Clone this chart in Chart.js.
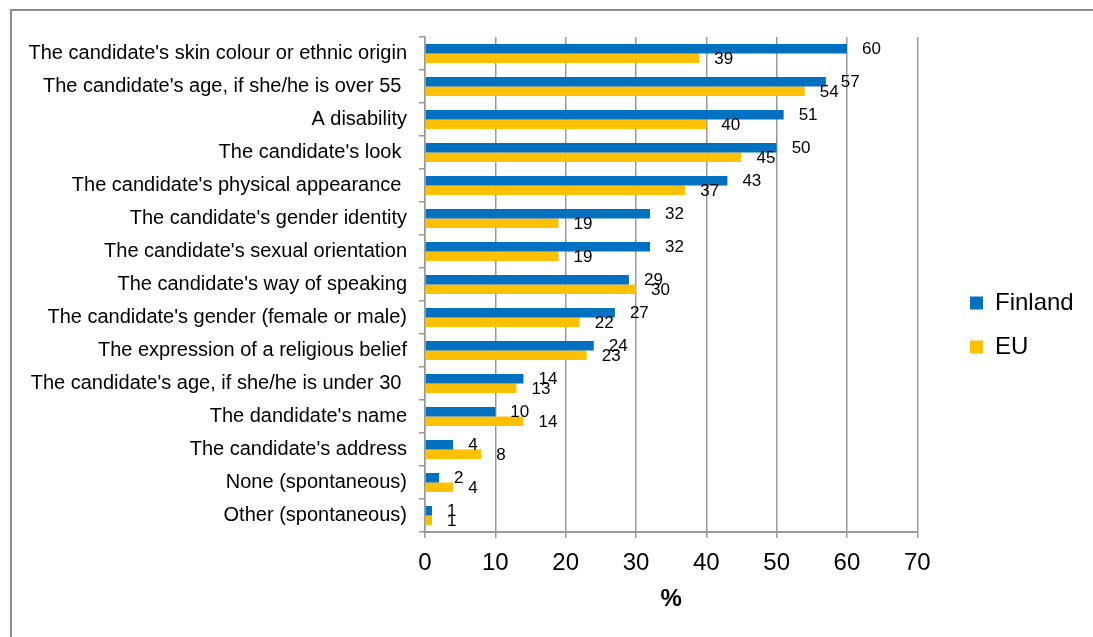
<!DOCTYPE html>
<html>
<head>
<meta charset="utf-8">
<script src="https://cdn.jsdelivr.net/npm/chart.js@4.4.0/dist/chart.umd.min.js"></script>
<style>
  html, body { margin: 0; padding: 0; background: #fff; overflow: hidden; }
  #frame { position: absolute; left: 10px; top: 9px; width: 1200px; height: 800px;
           border-top: 2px solid #8c8c8c; border-left: 2px solid #8c8c8c; }
  #wrap { position: absolute; left: 0; top: 0; width: 1093px; height: 637px; }
</style>
</head>
<body>
<div id="frame"></div>
<div id="wrap"><canvas id="chart" width="1093" height="637"></canvas></div>
<script>
const categories = [
  "The candidate's skin colour or ethnic origin",
  "The candidate's age, if she/he is over 55 ",
  "A disability",
  "The candidate's look ",
  "The candidate's physical appearance ",
  "The candidate's gender identity",
  "The candidate's sexual orientation",
  "The candidate's way of speaking",
  "The candidate's gender (female or male)",
  "The expression of a religious belief",
  "The candidate's age, if she/he is under 30 ",
  "The dandidate's name",
  "The candidate's address",
  "None (spontaneous)",
  "Other (spontaneous)"
];
const finland = [60, 57, 51, 50, 43, 32, 32, 29, 27, 24, 14, 10, 4, 2, 1];
const eu = [39, 54, 40, 45, 37, 19, 19, 30, 22, 23, 13, 14, 8, 4, 1];
const xMin = 0, xMax = 70, xStep = 10;

Chart.defaults.font.family = '"Liberation Sans", Arial, sans-serif';
Chart.defaults.color = '#000';

// value labels just right of each bar end
const barLabels = {
  id: 'barLabels',
  afterDatasetsDraw(chart) {
    const ctx = chart.ctx;
    ctx.save();
    ctx.font = '17px "Liberation Sans", Arial, sans-serif';
    ctx.fillStyle = '#000';
    ctx.textBaseline = 'middle';
    chart.data.datasets.forEach((ds, i) => {
      chart.getDatasetMeta(i).data.forEach((bar, j) => {
        ctx.fillText(ds.data[j], bar.x + 15, bar.y + 1);
      });
    });
    ctx.restore();
  }
};

// move the legend block a bit away from the plot, like the original
const legendNudge = {
  id: 'legendNudge',
  afterLayout(chart) {
    const l = chart.legend;
    const dx = 950 - l.left;
    l.left += dx; l.right += dx;
    const dy = (650 - (l.top + l.bottom)) / 2;
    l.top += dy; l.bottom += dy;
  }
};

new Chart(document.getElementById('chart').getContext('2d'), {
  type: 'bar',
  data: {
    labels: categories,
    datasets: [
      { label: 'Finland', data: finland, backgroundColor: '#0070C0', borderWidth: 0,
        categoryPercentage: 0.58, barPercentage: 1 },
      { label: 'EU', data: eu, backgroundColor: '#FFC000', borderWidth: 0,
        categoryPercentage: 0.58, barPercentage: 1 }
    ]
  },
  options: {
    indexAxis: 'y',
    responsive: false,
    animation: false,
    layout: { padding: { top: 37, right: 42, left: 0, bottom: 0 } },
    plugins: {
      tooltip: { enabled: false },
      legend: {
        position: 'right',
        labels: { boxWidth: 13, boxHeight: 13, padding: 20, color: '#000', font: { size: 24 } }
      }
    },
    scales: {
      x: {
        min: xMin,
        max: xMax,
        ticks: { stepSize: xStep, color: '#000', font: { size: 24 }, padding: 11 },
        grid: { color: '#999', lineWidth: 1.5, tickLength: 6 },
        border: { color: '#999', width: 2 },
        title: { display: true, text: '%', color: '#000',
                 font: { size: 24, weight: 'bold' }, padding: { top: 4, bottom: 23 } },
        afterFit: s => { s.height = 105; }
      },
      y: {
        ticks: { color: '#000', font: { size: 20 }, padding: 12, autoSkip: false },
        grid: { offset: true, drawOnChartArea: false, color: '#999', lineWidth: 1.5, tickLength: 6 },
        border: { color: '#999', width: 1.5 },
        afterFit: s => { s.width = 425; }
      }
    }
  },
  plugins: [barLabels, legendNudge]
});
</script>
</body>
</html>
